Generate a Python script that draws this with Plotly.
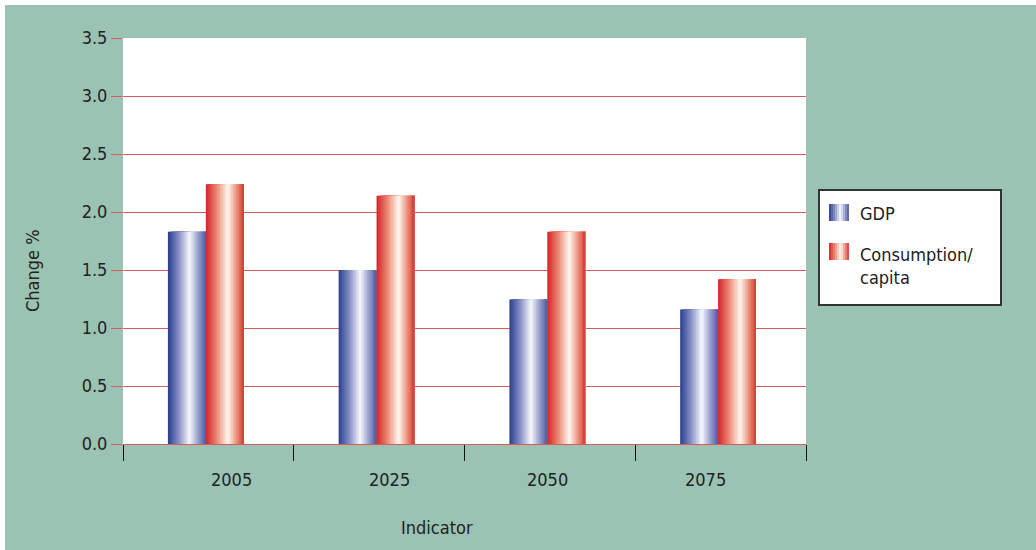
import plotly.graph_objects as go

# ---------------- data ----------------
years = ["2005", "2025", "2050", "2075"]
gdp = [1.83, 1.50, 1.245, 1.16]
consumption = [2.24, 2.14, 1.83, 1.42]
series_names = ["GDP", "Consumption/<br>capita"]
y_ticks = [0.0, 0.5, 1.0, 1.5, 2.0, 2.5, 3.0, 3.5]

# ---------------- style ----------------
W, H = 1036, 550
L, R, T, B = 123, 806, 38, 444
GREEN = "#9BC3B4"
GRID = "#D95A5A"
TXT = "#222222"
FONT = "Liberation Sans Narrow, DejaVu Sans Condensed, Roboto, sans-serif"

blue_stops = [(0.0, (42, 62, 142)), (0.3, (140, 148, 200)), (0.57, (248, 248, 253)),
              (0.8, (150, 156, 202)), (1.0, (78, 92, 165))]
red_stops = [(0.0, (212, 36, 40)), (0.3, (236, 140, 118)), (0.58, (255, 248, 242)),
             (0.8, (236, 150, 130)), (1.0, (212, 58, 50))]


def grad(stops, t):
    for (t0, c0), (t1, c1) in zip(stops[:-1], stops[1:]):
        if t <= t1:
            f = (t - t0) / (t1 - t0)
            c = [round(a + (b - a) * f) for a, b in zip(c0, c1)]
            return "rgb(%d,%d,%d)" % tuple(c)
    return "rgb(%d,%d,%d)" % stops[-1][1]


def px_x(p):
    return (p - L) / (R - L)


def px_y(p):
    return (B - p) / (B - T)


fig = go.Figure()

NS = 24
bar_w = 0.222
shift = -0.015
slice_w = bar_w / NS
xi = list(range(len(years)))
for k, (vals, stops) in enumerate([(gdp, blue_stops), (consumption, red_stops)]):
    base = shift - bar_w + k * bar_w
    for i in range(NS):
        t = (i + 0.5) / NS
        # each slice runs to the bar's right edge; later slices paint over it
        fig.add_trace(go.Bar(
            x=xi, y=vals,
            width=(NS - i) * slice_w, offset=base + i * slice_w,
            marker=dict(color=grad(stops, t), line=dict(width=0)),
            showlegend=False, hoverinfo="skip",
        ))

fig.update_layout(
    template="none",
    width=W, height=H,
    margin=dict(l=L, r=W - R, t=T, b=H - B, pad=0),
    paper_bgcolor=GREEN, plot_bgcolor="white",
    barmode="overlay",
    font=dict(family=FONT, color=TXT, size=18),
    xaxis=dict(
        type="linear", range=[-0.5, len(years) - 0.5],
        tickmode="array", tickvals=[i - 0.5 for i in range(len(years) + 1)],
        showticklabels=False, ticks="outside", ticklen=16, tickcolor="#111",
        tickwidth=1, showgrid=False, zeroline=False, showline=False,
    ),
    yaxis=dict(
        range=[0, 3.5], tickmode="array", tickvals=y_ticks,
        ticktext=["%.1f" % v for v in y_ticks],
        ticks="outside", ticklen=11, tickcolor=GRID, tickwidth=1,
        showgrid=True, gridcolor=GRID, gridwidth=1,
        zeroline=True, zerolinecolor=GRID, zerolinewidth=1, showline=False,
        tickfont=dict(size=18, color=TXT, family=FONT),
    ),
)

shapes = []
# white strips at top and left border
shapes.append(dict(type="rect", xref="paper", yref="paper",
                   x0=px_x(0), x1=px_x(W), y0=px_y(0), y1=px_y(5),
                   fillcolor="white", line=dict(width=0), layer="above"))
shapes.append(dict(type="rect", xref="paper", yref="paper",
                   x0=px_x(0), x1=px_x(5), y0=px_y(0), y1=px_y(H),
                   fillcolor="white", line=dict(width=0), layer="above"))
# legend box
shapes.append(dict(type="rect", xref="paper", yref="paper",
                   x0=px_x(819), x1=px_x(1001), y0=px_y(190), y1=px_y(305),
                   fillcolor="white", line=dict(color="#333333", width=2), layer="above"))
# legend swatches
for (sy0, sy1, stops) in [(204, 221, blue_stops), (243, 260, red_stops)]:
    n = 10
    for i in range(n):
        x0 = 829 + i * 2
        shapes.append(dict(type="rect", xref="paper", yref="paper",
                           x0=px_x(x0), x1=px_x(849), y0=px_y(sy1), y1=px_y(sy0),
                           fillcolor=grad(stops, (i + 0.5) / n), line=dict(width=0),
                           layer="above"))
fig.update_layout(shapes=shapes)

# year labels (Excel-style spacing, slightly narrower than the categories)
lab_left, lab_right = px_x(152), px_x(784)
annotations = []
for i, yr in enumerate(years):
    xp = lab_left + (i + 0.5) * (lab_right - lab_left) / len(years)
    annotations.append(dict(text=yr, xref="paper", yref="paper", x=xp, y=px_y(479),
                            xanchor="center", yanchor="middle", showarrow=False,
                            font=dict(size=18)))

annotations += [
    dict(text=series_names[0], xref="paper", yref="paper", x=px_x(858), y=px_y(213),
         xanchor="left", yanchor="middle", showarrow=False, font=dict(size=18)),
    dict(text=series_names[1], xref="paper", yref="paper", x=px_x(858), y=px_y(266),
         xanchor="left", yanchor="middle", showarrow=False, align="left",
         font=dict(size=18)),
    dict(text="Change %", xref="paper", yref="paper", x=px_x(32), y=px_y(271),
         xanchor="center", yanchor="middle", textangle=-90, showarrow=False,
         font=dict(size=18)),
    dict(text="Indicator", xref="paper", yref="paper", x=px_x(437), y=px_y(527),
         xanchor="center", yanchor="middle", showarrow=False, font=dict(size=18)),
]
fig.update_layout(annotations=annotations)

fig.write_html("out.html")
